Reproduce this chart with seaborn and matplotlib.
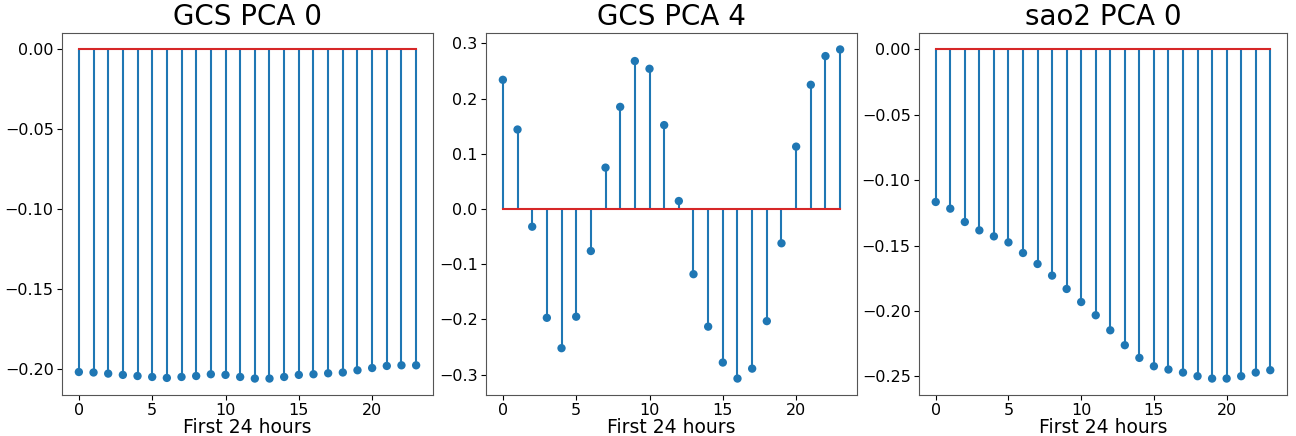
import numpy as np
import pandas as pd
import matplotlib
matplotlib.use("Agg")
import matplotlib.pyplot as plt
import seaborn as sns

hours = list(range(24))

titles = ["GCS PCA 0", "GCS PCA 4", "sao2 PCA 0"]

gcs_pca0 = [-0.2021, -0.2024, -0.2031, -0.2039, -0.2046, -0.2052, -0.2058, -0.2052,
            -0.2046, -0.2035, -0.2039, -0.2052, -0.2062, -0.2062, -0.2052, -0.2039,
            -0.2035, -0.2029, -0.2024, -0.2010, -0.1996, -0.1983, -0.1979, -0.1979]

gcs_pca4 = [0.234, 0.144, -0.032, -0.197, -0.252, -0.195, -0.076, 0.075,
            0.185, 0.268, 0.254, 0.152, 0.0145, -0.118, -0.213, -0.278,
            -0.307, -0.289, -0.203, -0.062, 0.113, 0.225, 0.277, 0.289]

sao2_pca0 = [-0.1166, -0.1217, -0.1319, -0.1383, -0.1429, -0.1475, -0.1556, -0.1640,
             -0.1729, -0.1831, -0.1931, -0.2032, -0.2147, -0.2261, -0.2358, -0.2422,
             -0.2447, -0.2470, -0.2498, -0.2516, -0.2516, -0.2498, -0.2470, -0.2452]

series = [gcs_pca0, gcs_pca4, sao2_pca0]
xlabel = "First 24 hours"

fig = plt.figure(figsize=(12.96, 4.36), dpi=100)
W, H = 1296, 436
boxes = [(62, 433), (486, 857), (919, 1287)]
top, bottom = 33, 395

stem_color = "#1f77b4"
base_color = "#d62728"

for (l, r), title, vals in zip(boxes, titles, series):
    ax = fig.add_axes([l / W, 1 - bottom / H, (r - l) / W, (bottom - top) / H])
    df = pd.DataFrame({"hour": hours, "value": vals})
    ax.vlines(df["hour"], 0, df["value"], color=stem_color, linewidth=1.5, zorder=2)
    ax.plot([df["hour"].min(), df["hour"].max()], [0, 0], color=base_color,
            linewidth=1.5, zorder=3)
    sns.scatterplot(data=df, x="hour", y="value", ax=ax, color=stem_color,
                    s=36, edgecolor="none", linewidth=0, zorder=4)
    ax.set_title(title, fontsize=20)
    ax.set_xlabel(xlabel, fontsize=13.5, labelpad=0)
    ax.set_ylabel("")
    ax.set_xticks([0, 5, 10, 15, 20])
    ax.tick_params(labelsize=11.5, pad=2.5)
    for sp in ax.spines.values():
        sp.set_color("#555555")

fig.savefig("out.png", dpi=100)
